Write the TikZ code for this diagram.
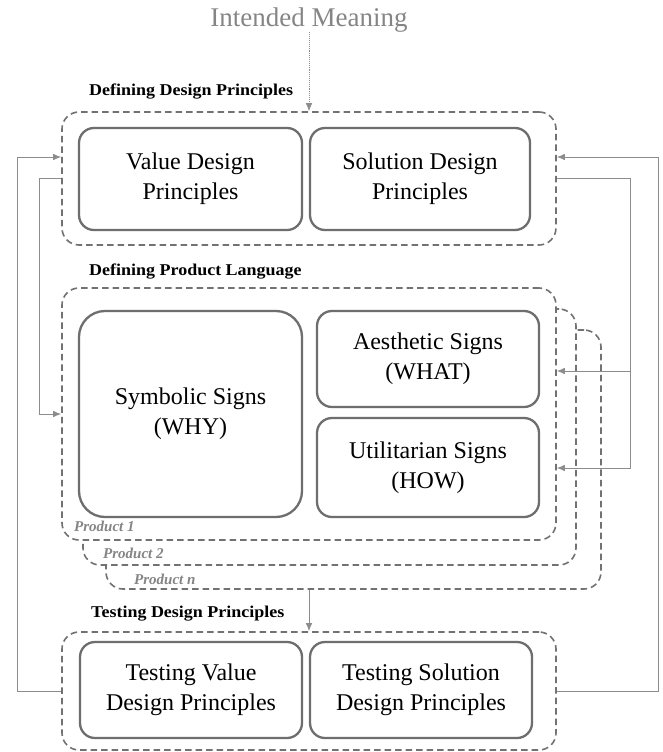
\documentclass[tikz,border=0pt]{standalone}
\usepackage{fontspec}
\setmainfont{Liberation Serif}
\newfontfamily\headfont[FakeStretch=1.09]{Liberation Serif}
\usetikzlibrary{arrows.meta}
\definecolor{dashc}{HTML}{727272}
\definecolor{boxc}{HTML}{6E6E6E}
\definecolor{connc}{HTML}{8C8C8C}
\definecolor{labc}{HTML}{858585}
\tikzset{
  dashbox/.style={draw=dashc, line width=1.6pt, dash pattern=on 6.5pt off 4pt, rounded corners=17pt, fill=white, minimum width=#1},
  inbox/.style={draw=boxc, line width=2.3pt, rounded corners=15pt, fill=white, align=center, font=\fontsize{24}{30}\selectfont, inner sep=0pt},
  head/.style={anchor=west, font=\headfont\bfseries\fontsize{16.5}{19}\selectfont, inner sep=0pt},
  prodlab/.style={anchor=west, text=labc, font=\bfseries\itshape\fontsize{15}{17}\selectfont, inner sep=0pt},
  conn/.style={draw=connc, line width=0.9pt},
  tip/.style={-{Latex[length=8pt,width=6.5pt]}}
}
\begin{document}
\begin{tikzpicture}[x=1pt,y=-1pt]
\useasboundingbox (0,0) rectangle (663,752);
% title
\node[text=labc, font=\fontsize{27}{30}\selectfont, inner sep=0pt] (im) at (309,20) {Intended Meaning};
% top group
\node[head] (h1) at (89,92) {Defining Design Principles};
\node[dashbox=494pt, minimum height=133pt] (dp) at (309,178.5) {};
\node[inbox, minimum width=223pt, minimum height=102pt] (vdp) at (190.5,179) {Value Design\\Principles};
\node[inbox, minimum width=220pt, minimum height=102pt] (sdp) at (420,179) {Solution Design\\Principles};
% middle group
\node[head] (h2) at (89,272) {Defining Product Language};
\node[dashbox=495pt, minimum height=259pt] (pn) at (353.5,459.5) {};
\node[dashbox=493pt, minimum height=256pt] (p2) at (329.5,437) {};
\node[dashbox=494pt, minimum height=252pt] (p1) at (309,414) {};
\node[inbox, rounded corners=26pt, minimum width=223pt, minimum height=206pt] (sym) at (190.5,414) {Symbolic Signs\\(WHY)};
\node[inbox, minimum width=222pt, minimum height=96pt] (aes) at (428,359) {Aesthetic Signs\\(WHAT)};
\node[inbox, minimum width=222pt, minimum height=99pt] (uti) at (428,467.5) {Utilitarian Signs\\(HOW)};
\node[prodlab] (l1) at (74,526) {Product 1};
\node[prodlab] (l2) at (103,553) {Product 2};
\node[prodlab] (l3) at (134,579) {Product n};
% bottom group
\node[head] (h3) at (91,614) {Testing Design Principles};
\node[dashbox=494pt, minimum height=118pt] (tb) at (309,691) {};
\node[inbox, minimum width=222pt, minimum height=96pt] (tv) at (191,690) {Testing Value\\Design Principles};
\node[inbox, minimum width=222pt, minimum height=96pt] (ts) at (421,690) {Testing Solution\\Design Principles};
% helper coordinates
\coordinate (lo) at (17,0);
\coordinate (li) at (39,0);
\coordinate (ri) at (630,0);
\coordinate (ro) at (658,0);
\coordinate (yA) at (0,157);
\coordinate (yD) at (0,371);
\coordinate (yE) at (0,468);
% connectors
\draw[conn, densely dotted, line width=0.7pt, tip] (im) -- (dp.north);
\draw[conn, tip] (tb.west) -- (tb.west -| lo) |- (dp.west |- yA);
\draw[conn, tip] (dp.west) -- (dp.west -| li) |- (p1.west);
\draw[conn, tip] (tb.east) -- (tb.east -| ro) |- (dp.east |- yA);
\draw[conn, tip] (dp.east) -- (dp.east -| ri) |- (p1.east |- yE);
\draw[conn, tip] (ri |- yD) -- (p1.east |- yD);
\draw[conn, tip] (pn.south -| tb.north) -- (tb.north);
\end{tikzpicture}
\end{document}
